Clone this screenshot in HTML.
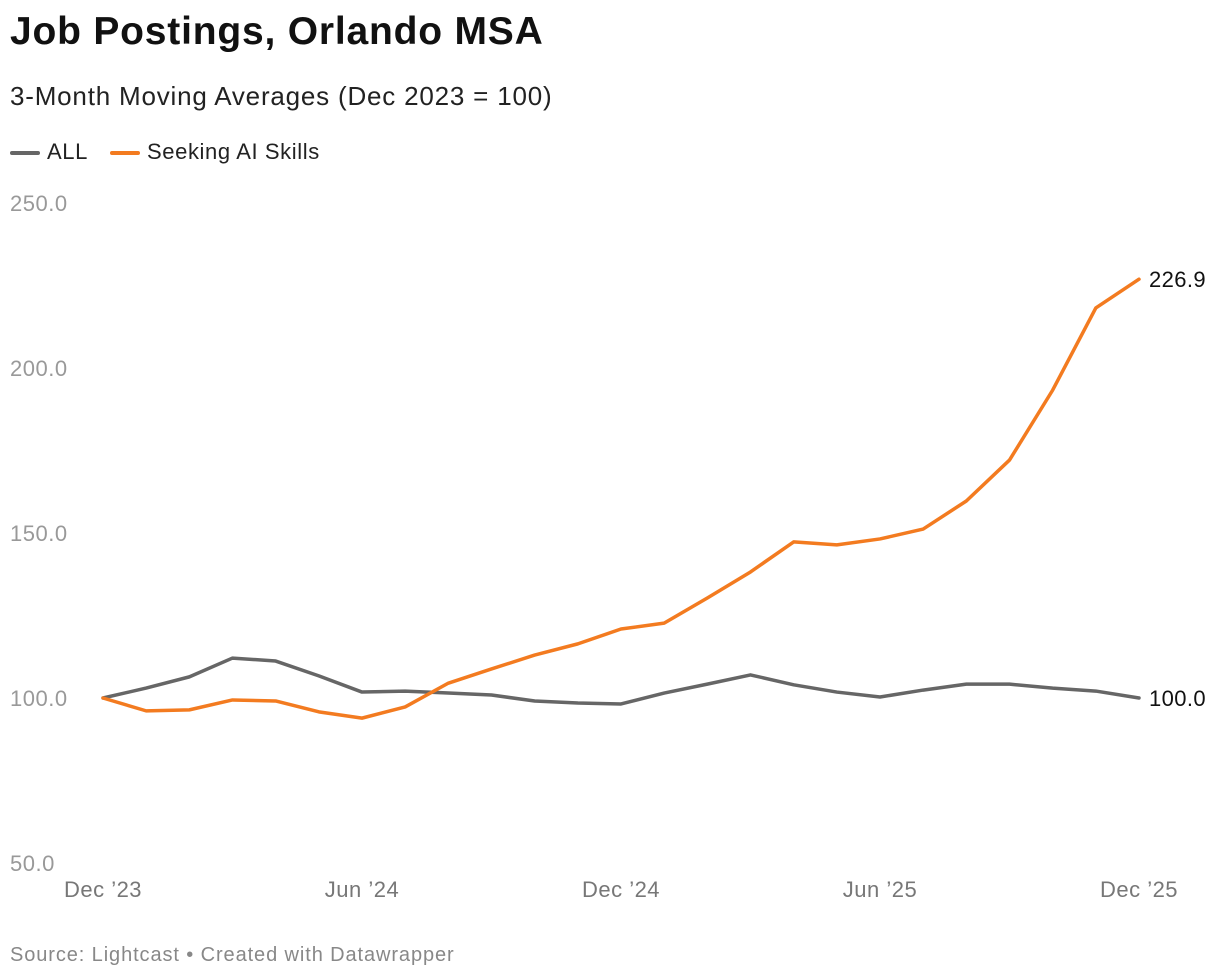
<!DOCTYPE html>
<html><head><meta charset="utf-8"><style>
body{margin:0;background:#fff;font-family:"Liberation Sans",sans-serif;}
#wrap{position:relative;width:1220px;height:980px;overflow:hidden}
h1{position:absolute;left:10px;top:10px;margin:0;font-size:39px;font-weight:bold;color:#111;letter-spacing:0.8px}
.sub{position:absolute;left:10px;top:81px;font-size:26px;color:#222;letter-spacing:0.8px}
.leg{position:absolute;top:139px;font-size:22px;color:#222;letter-spacing:0.6px}
.src{position:absolute;left:10px;top:944px;font-size:20px;color:#888;letter-spacing:0.9px}
</style></head><body>
<div id="wrap">
<h1>Job Postings, Orlando MSA</h1>
<div class="sub">3-Month Moving Averages (Dec 2023 = 100)</div>
<div class="leg" style="left:10px"><span style="display:inline-block;width:30px;height:4px;background:#666;border-radius:2px;vertical-align:middle;margin-right:7px"></span>ALL</div>
<div class="leg" style="left:110px"><span style="display:inline-block;width:30px;height:4px;background:#f37b20;border-radius:2px;vertical-align:middle;margin-right:7px"></span>Seeking AI Skills</div>
<svg id="svg" width="1220" height="980" style="position:absolute;left:0;top:0"></svg>
<div class="src">Source: Lightcast • Created with Datawrapper</div>
</div>
<script>
const xLabels=["Dec ’23","Jun ’24","Dec ’24","Jun ’25","Dec ’25"];
const xLabelIdx=[0,6,12,18,24];
const yTicks=[50,100,150,200,250];
const allValues=[100,103.0,106.4,112.1,111.2,106.7,101.8,102.1,101.5,100.9,99.1,98.5,98.2,101.5,104.2,107.0,104.0,101.8,100.3,102.4,104.2,104.2,103.0,102.1,100];
const aiValues=[100,96.1,96.4,99.4,99.1,95.8,93.9,97.3,104.5,108.8,113.0,116.4,120.9,122.7,130.3,138.2,147.3,146.4,148.2,151.2,159.7,172.1,193.3,218.2,226.9];
const NS="http://www.w3.org/2000/svg",svg=document.getElementById('svg');
const x=i=>103+i*(1139-103)/24;
const y=v=>698-(v-100)*3.3;
function el(t,a,txt){const e=document.createElementNS(NS,t);for(const k in a)e.setAttribute(k,a[k]);if(txt!=null)e.textContent=txt;svg.appendChild(e);return e;}
yTicks.forEach(v=>{const t=el('text',{x:10,y:y(v)+8,'font-size':22,fill:'#999','letter-spacing':0.5,'font-family':'Liberation Sans, sans-serif'},v.toFixed(1));

});
xLabels.forEach((l,k)=>{const t=el('text',{x:x(xLabelIdx[k]),y:897,'font-size':22,fill:'#777','text-anchor':'middle','letter-spacing':0.5,'font-family':'Liberation Sans, sans-serif'},l);

});
function line(vals,color,name){const p=el('polyline',{points:vals.map((v,i)=>x(i)+','+y(v)).join(' '),fill:'none',stroke:color,'stroke-width':3.5,'stroke-linejoin':'round','stroke-linecap':'round'});


const n=vals.length-1;const t=el('text',{x:x(n)+10,y:y(vals[n])+8,'font-size':22,fill:'#111','letter-spacing':0.4,'font-family':'Liberation Sans, sans-serif'},vals[n].toFixed(1));

}
line(allValues,'#666','line-all');
line(aiValues,'#f37b20','line-ai-skills');
</script>
</body></html>
